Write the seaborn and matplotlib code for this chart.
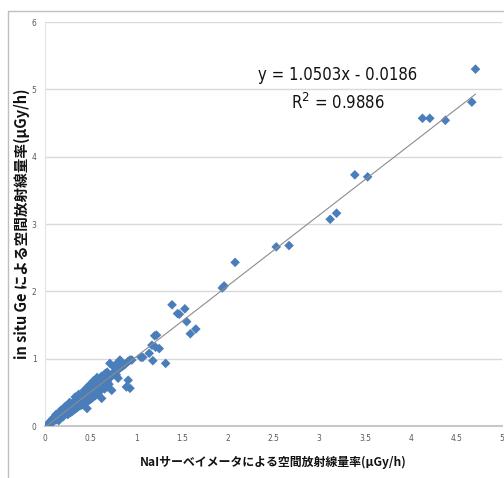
import numpy as np
import pandas as pd
import seaborn as sns
import matplotlib.pyplot as plt
from matplotlib.lines import Line2D

# dense cluster near origin + scattered higher readings
nai_dose = [
    0.02, 0.03, 0.04, 0.05, 0.05, 0.06, 0.06, 0.07, 0.07, 0.08, 0.08, 0.09, 0.09, 0.10, 0.10,
    0.11, 0.11, 0.12, 0.12, 0.13, 0.13, 0.14, 0.14, 0.15, 0.15, 0.16, 0.16, 0.17, 0.17, 0.18,
    0.18, 0.19, 0.19, 0.20, 0.20, 0.21, 0.21, 0.22, 0.22, 0.23, 0.23, 0.24, 0.24, 0.25, 0.25,
    0.26, 0.26, 0.27, 0.27, 0.28, 0.28, 0.29, 0.29, 0.30, 0.30, 0.31, 0.31, 0.32, 0.32, 0.33,
    0.33, 0.34, 0.34, 0.35, 0.35, 0.36, 0.36, 0.37, 0.37, 0.38, 0.38, 0.39, 0.39, 0.40, 0.40,
    0.41, 0.41, 0.42, 0.42, 0.43, 0.43, 0.44, 0.44, 0.45, 0.45, 0.46, 0.46, 0.47, 0.47, 0.48,
    0.48, 0.49, 0.49, 0.50, 0.50, 0.51, 0.51, 0.52, 0.52, 0.53, 0.53, 0.54, 0.54, 0.55, 0.55,
    0.56, 0.56, 0.57, 0.57, 0.58, 0.58, 0.59, 0.60, 0.60, 0.62, 0.63, 0.64, 0.65, 0.66, 0.67,
    0.68, 0.70, 0.71, 0.72, 0.73, 0.74, 0.76, 0.78, 0.80, 0.82, 0.84, 0.86, 0.88,
    0.15, 0.20, 0.25, 0.28, 0.30, 0.33, 0.35, 0.38, 0.40, 0.42, 0.45, 0.47, 0.50, 0.52, 0.55,
    0.58, 0.62, 0.60, 0.65, 0.68, 0.70, 0.73, 0.78, 0.80, 0.89, 0.93, 0.91, 0.46, 0.40, 0.49,
    0.71, 0.82, 0.91, 0.95, 0.93, 0.75, 0.78, 0.68, 0.62, 0.66,
    0.22, 0.27, 0.33, 0.37, 0.43, 0.48, 0.53, 0.57, 0.12, 0.17,
    1.05, 1.07, 1.14, 1.17, 1.18, 1.20, 1.21, 1.22, 1.25, 1.32,
    1.39, 1.45, 1.47, 1.53, 1.55, 1.59, 1.65, 1.94, 1.96, 2.08, 2.53, 2.67,
    3.12, 3.19, 3.39, 3.53, 4.13, 4.21, 4.38, 4.67, 4.71,
]
ge_dose = [
    0.01, 0.02, 0.03, 0.02, 0.05, 0.04, 0.07, 0.05, 0.08, 0.06, 0.10, 0.07, 0.11, 0.08, 0.12,
    0.10, 0.14, 0.09, 0.13, 0.12, 0.16, 0.11, 0.15, 0.13, 0.18, 0.14, 0.19, 0.15, 0.20, 0.16,
    0.22, 0.17, 0.21, 0.18, 0.24, 0.19, 0.23, 0.20, 0.26, 0.21, 0.25, 0.22, 0.28, 0.23, 0.27,
    0.24, 0.30, 0.25, 0.29, 0.26, 0.32, 0.27, 0.31, 0.28, 0.34, 0.29, 0.33, 0.30, 0.36, 0.31,
    0.35, 0.32, 0.38, 0.33, 0.37, 0.34, 0.40, 0.35, 0.41, 0.36, 0.42, 0.37, 0.44, 0.38, 0.45,
    0.39, 0.46, 0.40, 0.48, 0.41, 0.47, 0.42, 0.50, 0.43, 0.52, 0.44, 0.50, 0.45, 0.54, 0.46,
    0.55, 0.47, 0.56, 0.48, 0.58, 0.49, 0.60, 0.50, 0.62, 0.51, 0.64, 0.52, 0.66, 0.53, 0.63,
    0.54, 0.68, 0.55, 0.66, 0.56, 0.62, 0.57, 0.58, 0.67, 0.60, 0.64, 0.62, 0.66, 0.64, 0.68,
    0.66, 0.70, 0.72, 0.74, 0.76, 0.78, 0.80, 0.82, 0.84, 0.86, 0.88, 0.90, 0.92,
    0.08, 0.14, 0.17, 0.20, 0.22, 0.25, 0.27, 0.30, 0.31, 0.33, 0.35, 0.37, 0.40, 0.42, 0.45,
    0.48, 0.41, 0.52, 0.55, 0.58, 0.62, 0.53, 0.76, 0.71, 0.58, 0.56, 0.68, 0.26, 0.36, 0.39,
    0.93, 0.98, 0.96, 0.98, 0.98, 0.88, 0.92, 0.80, 0.74, 0.78,
    0.29, 0.35, 0.43, 0.47, 0.53, 0.60, 0.67, 0.72, 0.17, 0.23,
    1.02, 1.02, 1.08, 1.20, 0.97, 1.34, 1.17, 1.35, 1.15, 0.93,
    1.80, 1.67, 1.66, 1.74, 1.55, 1.37, 1.44, 2.05, 2.08, 2.43, 2.66, 2.68,
    3.07, 3.16, 3.73, 3.70, 4.57, 4.57, 4.54, 4.81, 5.30,
]

slope = 1.0503
intercept = -0.0186
r_squared = 0.9886

x_ticks = [0, 0.5, 1, 1.5, 2, 2.5, 3, 3.5, 4, 4.5, 5]
x_tick_labels = ["0", "0.5", "1", "1.5", "2", "2.5", "3", "3.5", "4", "4.5", "5"]
y_ticks = [0, 1, 2, 3, 4, 5, 6]

df = pd.DataFrame({"nai": nai_dose, "ge": ge_dose})
fit_x = np.array([df["nai"].min(), df["nai"].max()])
fit_df = pd.DataFrame({"nai": fit_x, "ge": slope * fit_x + intercept})

sns.set_theme(style="white")
plt.rcParams["font.family"] = ["Noto Sans CJK JP", "DejaVu Sans"]

fig = plt.figure(figsize=(5.04, 4.78), dpi=100)
ax = fig.add_axes([45 / 504, 1 - 426 / 478, 457 / 504, 404 / 478])

sns.scatterplot(data=df, x="nai", y="ge", marker="D", s=24, color="#4A7EBB",
                edgecolor="none", ax=ax, zorder=3)
sns.lineplot(data=fit_df, x="nai", y="ge", color="#8C8C8C", linewidth=0.8, ax=ax, zorder=4)

ax.set_xlim(0, 5)
ax.set_ylim(0, 6)
ax.set_xticks(x_ticks)
ax.set_xticklabels(x_tick_labels)
ax.set_yticks(y_ticks)
ax.tick_params(axis="both", length=0, labelsize=6, colors="#595959")
ax.tick_params(axis="x", pad=6)
ax.tick_params(axis="y", pad=6)
for lab in ax.get_xticklabels() + ax.get_yticklabels():
    lab.set_family("DejaVu Sans")
    lab.set_stretch("condensed")

ax.yaxis.grid(True, color="#D9D9D9", linewidth=1.0)
ax.xaxis.grid(False)
ax.set_axisbelow(True)
for side in ["top", "right"]:
    ax.spines[side].set_visible(False)
ax.spines["left"].set_color("#E3E3E3")
ax.spines["left"].set_linewidth(0.8)
ax.spines["bottom"].set_color("#C8C8C8")
ax.spines["bottom"].set_linewidth(1.5)

ax.set_xlabel("NaIサーベイメータによる空間放射線量率(μGy/h)", fontsize=8.6,
              fontweight="bold", color="#111111", labelpad=9)
ax.set_ylabel("in situ Ge による空間放射線量率(μGy/h)", fontsize=10.5,
              fontweight="bold", color="#111111", labelpad=1)

ax.text(3.2, 5.22, f"y = {slope:.4f}x - {abs(intercept):.4f}", ha="center", va="center",
        fontsize=12, family="DejaVu Sans", stretch="condensed", color="#111111")
ax.text(3.2, 4.80, f"R$^2$ = {r_squared:.4f}", ha="center", va="center",
        fontsize=12, family="DejaVu Sans", stretch="condensed", color="#111111")

# outer chart frame
fig.add_artist(Line2D([8 / 504, 8 / 504], [0, 1 - 11 / 478], transform=fig.transFigure,
                      color="#BFBFBF", linewidth=1.0))
fig.add_artist(Line2D([8 / 504, 1], [1 - 11 / 478, 1 - 11 / 478], transform=fig.transFigure,
                      color="#BFBFBF", linewidth=1.0))

fig.savefig("out.png", dpi=100)
